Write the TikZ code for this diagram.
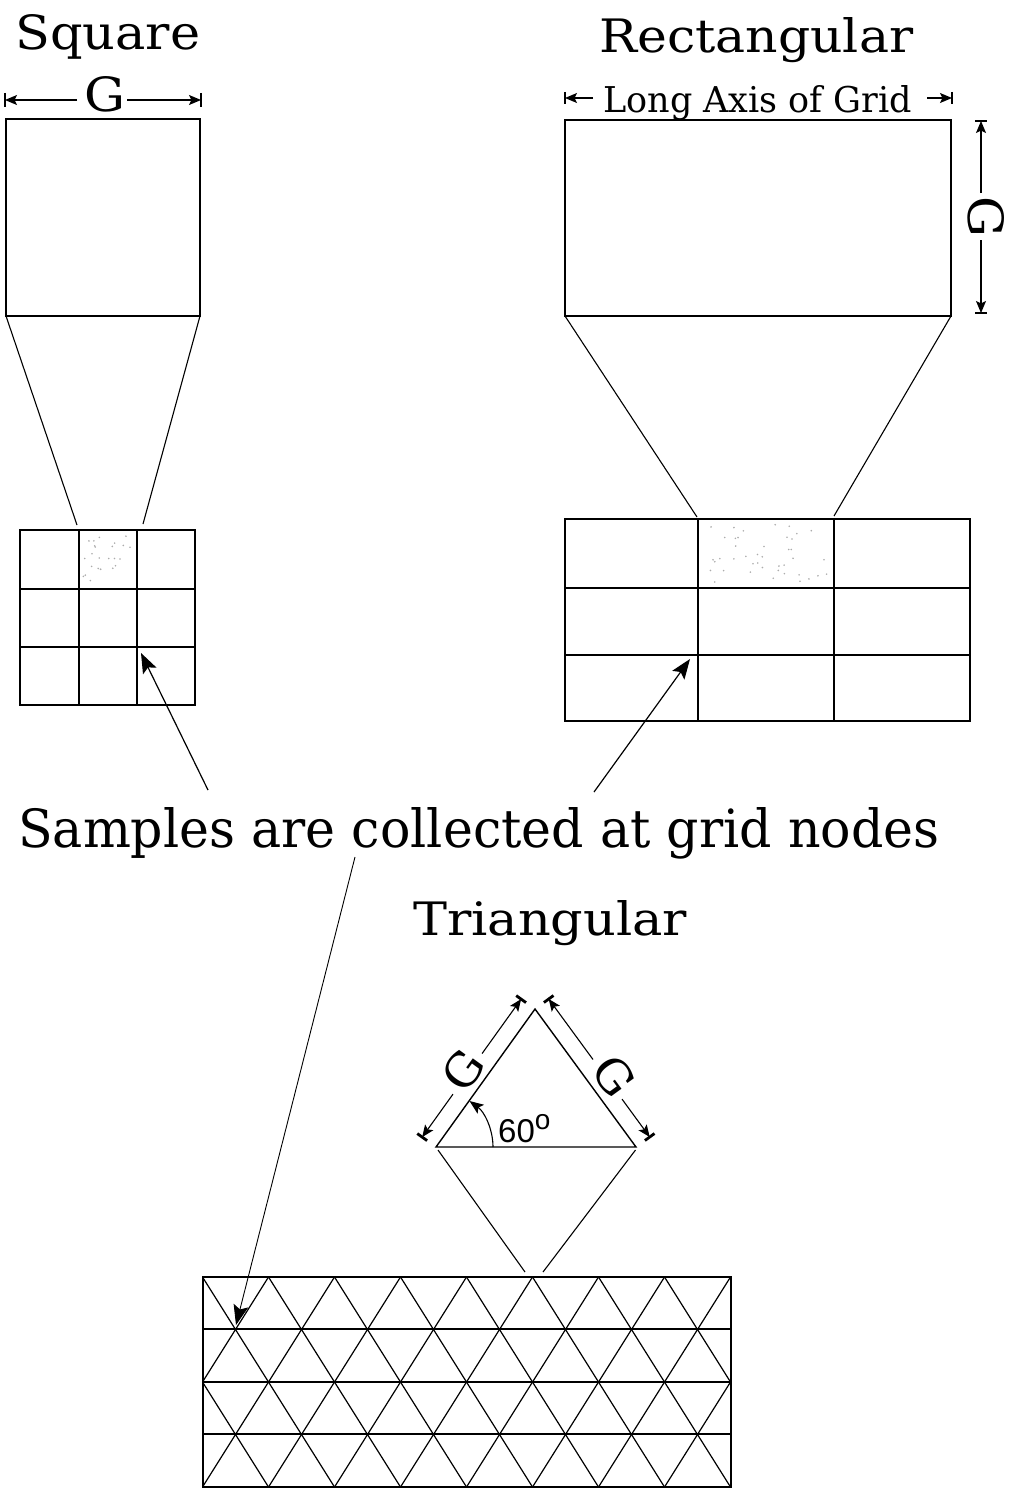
\documentclass[tikz,border=0pt]{standalone}
\usepackage{fontspec}
\setmainfont{DejaVu Serif}
\newfontfamily\sansf{Liberation Sans}
\usetikzlibrary{arrows.meta,calc}
\begin{document}
\begin{tikzpicture}[x=1pt,y=-1pt,
  box/.style={line width=2pt},
  fan/.style={line width=1.1pt},
  dimline/.style={line width=1.1pt},
  barline/.style={line width=2.8pt},
  gridline/.style={line width=2pt},
  diag/.style={line width=1.2pt},
  dimtip/.style={-{Stealth[length=12pt,width=10pt,inset=2.5pt]}},
  bigtip/.style={line width=1.2pt,-{Stealth[length=20pt,width=15pt,inset=4pt]}},
  lbl/.style={inner sep=0pt,anchor=base west},
  stip/.style={fill=gray!65}
]
\useasboundingbox (0,0) rectangle (1012,1501);

% ---------------- titles and labels
\node[lbl] (sqtitle) at (15,50) {\resizebox{185pt}{35pt}{Square}};
\node[lbl] (recttitle) at (599,53) {\resizebox{314pt}{35pt}{Rectangular}};
\node[lbl] (longaxis) at (603,112) {\resizebox{309pt}{27pt}{Long Axis of Grid}};
\node[lbl] (samples) at (18,847) {\resizebox{921pt}{40pt}{Samples are collected at grid nodes}};
\node[lbl] (trititle) at (413,935) {\resizebox{274pt}{35pt}{Triangular}};

% ---------------- Square
\node[lbl] (sqG) at (84,112) {\resizebox{41pt}{35pt}{G}};
\coordinate (sqGl) at (77,100);
\coordinate (sqGr) at (127,100);
\coordinate (sqL) at (5,100);
\coordinate (sqR) at (201,100);
\draw[dimline,dimtip] (sqGl) -- (sqL);
\draw[dimline,dimtip] (sqGr) -- (sqR);
\draw[barline] (5,93) -- (5,107);
\draw[barline] (201,93) -- (201,107);

\draw[box] (6,119) rectangle (200,316);
\coordinate (sqTL) at (6,316);
\coordinate (sqTR) at (200,316);
\coordinate (sqFl) at (77,525);
\coordinate (sqFr) at (143,524);
\draw[fan] (sqTL) -- (sqFl);
\draw[fan] (sqTR) -- (sqFr);

% small square grid
\pgfmathsetseed{11}
\foreach \i in {1,...,24}{\fill[stip] ({83+50*rnd},{534+51*rnd}) circle (0.9pt);}
\draw[box] (20,530) rectangle (195,705);
\draw[gridline] (20,589) -- (195,589);
\draw[gridline] (20,647) -- (195,647);
\draw[gridline] (79,530) -- (79,705);
\draw[gridline] (137,530) -- (137,705);

% ---------------- Rectangular
\coordinate (laL) at (565,98);
\coordinate (laR) at (952,98);
\draw[dimline,dimtip] (593,98) -- (laL);
\draw[dimline,dimtip] (927,98) -- (laR);
\draw[barline] (565,92) -- (565,104);
\draw[barline] (952,92) -- (952,104);

\draw[box] (565,120) rectangle (951,316);
\node[inner sep=0pt,rotate=-90] (rectG) at (986,217) {\resizebox{41pt}{36pt}{G}};
\coordinate (rgT) at (981,121);
\coordinate (rgB) at (981,313);
\draw[dimline,dimtip] (981,193) -- (rgT);
\draw[dimline,dimtip] (981,240) -- (rgB);
\draw[barline] (975,121) -- (987,121);
\draw[barline] (975,313) -- (987,313);

\coordinate (rcTL) at (565,316);
\coordinate (rcTR) at (951,316);
\coordinate (rcFl) at (697,517);
\coordinate (rcFr) at (834,516);
\draw[fan] (rcTL) -- (rcFl);
\draw[fan] (rcTR) -- (rcFr);

% rectangular grid
\pgfmathsetseed{5}
\foreach \i in {1,...,42}{\fill[stip] ({704+124*rnd},{524+58*rnd}) circle (0.9pt);}
\draw[box] (565,519) rectangle (970,721);
\draw[gridline] (565,588) -- (970,588);
\draw[gridline] (565,655) -- (970,655);
\draw[gridline] (698,519) -- (698,721);
\draw[gridline] (834,519) -- (834,721);

% ---------------- sample arrows
\coordinate (s1tail) at (208,790);
\coordinate (s1tip) at (141,653);
\coordinate (s2tail) at (594,792);
\coordinate (s2tip) at (690,659);
\coordinate (s3tail) at (355,857);
\coordinate (s3tip) at (236,1325);
\draw[bigtip] (s1tail) -- (s1tip);
\draw[bigtip] (s2tail) -- (s2tip);
\draw[bigtip,line width=0.9pt] (s3tail) -- (s3tip);

% ---------------- Triangle
\coordinate (tA) at (535,1009);
\coordinate (tL) at (436,1147);
\coordinate (tR) at (636,1147);
\draw[line width=1.4pt,line join=miter] (tL) -- (tA) -- (tR) -- cycle;

% left dimension
\coordinate (P1) at (422.2,1137.1);
\coordinate (P2) at (521.1,999.1);
\draw[dimline,dimtip] (453.0,1094.1) -- (P1);
\draw[dimline,dimtip] (482.1,1053.5) -- (P2);
\draw[barline] ($(P1)+(-4.9,-3.5)$) -- ($(P1)+(4.9,3.5)$);
\draw[barline] ($(P2)+(-4.9,-3.5)$) -- ($(P2)+(4.9,3.5)$);
\node[inner sep=0pt,rotate=54] (triGl) at (463,1070) {\resizebox{38pt}{34pt}{G}};

% right dimension
\coordinate (Q1) at (548.7,999);
\coordinate (Q2) at (649.7,1137);
\draw[dimline,dimtip] (593,1059.5) -- (Q1);
\draw[dimline,dimtip] (622,1099.1) -- (Q2);
\draw[barline] ($(Q1)+(-4.8,3.5)$) -- ($(Q1)+(4.8,-3.5)$);
\draw[barline] ($(Q2)+(-4.8,3.5)$) -- ($(Q2)+(4.8,-3.5)$);
\node[inner sep=0pt,rotate=-54] (triGr) at (614,1076) {\resizebox{38pt}{34pt}{G}};

% angle
\coordinate (angS) at (493,1147);
\coordinate (angE) at (469.5,1101);
\draw[line width=1.1pt,-{Stealth[length=14pt,width=11pt,inset=3pt]}] (angS) .. controls (493,1128.8) and (484.2,1111.7) .. (angE);
\node[lbl] (ang) at (498,1142) {\sansf\fontsize{33}{33}\selectfont 60\raisebox{13pt}{\fontsize{28}{28}\selectfont o}};

% fan to triangular grid
\coordinate (tgFl) at (525,1272);
\coordinate (tgFr) at (543,1272);
\draw[fan] (438,1150) -- (tgFl);
\draw[fan] (635.5,1150) -- (tgFr);

% ---------------- Triangular grid
\begin{scope}
\clip (202.5,1277) rectangle (730.5,1487);
\foreach \k in {-2,...,10}{
  \draw[diag] ({202.5+66*\k},1277) -- ({334.5+66*\k},1487);
  \draw[diag] ({202.5+66*\k},1277) -- ({70.5+66*\k},1487);
}
\end{scope}
\draw[gridline] (202.5,1329) -- (730.5,1329);
\draw[gridline] (202.5,1382) -- (730.5,1382);
\draw[gridline] (202.5,1434) -- (730.5,1434);
\draw[box] (202.5,1277) rectangle (730.5,1487);
\end{tikzpicture}
\end{document}
